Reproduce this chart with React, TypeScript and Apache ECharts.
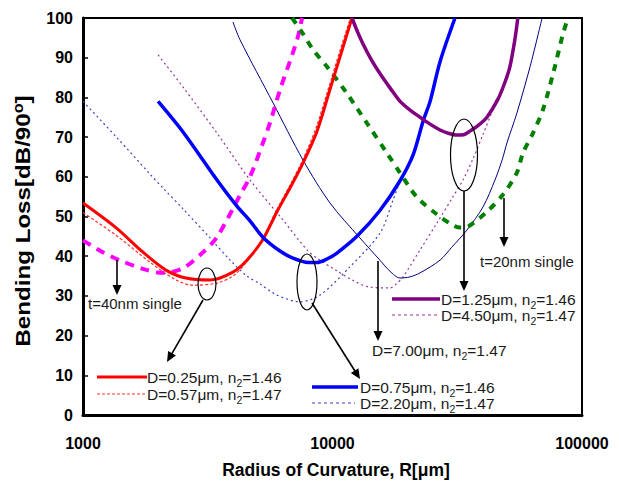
import React, { useEffect, useRef } from 'react';
import * as echarts from 'echarts';

// ---------- data ----------
const X_MIN = 1000;
const X_MAX = 100000;
const Y_MIN = 0;
const Y_MAX = 100;
const Y_STEP = 10;

// D=0.25um, n2=1.46
const redSolid: [number, number][] = [
  [1000, 53.4], [1355, 47.2], [1740, 41], [2150, 36.5], [2585, 34.5], [3230, 34], [3990, 36], [4540, 39],
  [5260, 44.2], [5990, 51.2], [6800, 57.5], [7620, 63.5], [8670, 71.5], [9770, 82], [11000, 92.5], [11970, 100],
];
// D=0.57um, n2=1.47
const redDotted: [number, number][] = [
  [1000, 51], [1355, 45.3], [1855, 38.5], [2360, 34], [2760, 32.7], [3420, 33.2], [3990, 35], [4450, 38],
  [5180, 43.8], [5900, 51], [6700, 57.5], [7500, 63.5], [8550, 72], [9600, 82], [10800, 92.5], [11800, 100],
];
// t=40nm single
const magentaDashed: [number, number][] = [
  [1000, 44], [1200, 41], [1400, 39], [1740, 36.8], [2090, 35.8], [2520, 37], [3030, 41], [3444, 44.8],
  [4260, 55.4], [4670, 60], [5260, 68.5], [5610, 73.5], [6160, 81.9], [6890, 90.7], [7250, 95], [7550, 100],
];
// D=0.75um, n2=1.46
const blueSolid: [number, number][] = [
  [2000, 79], [2517, 71.3], [3444, 59.2], [4140, 52.6], [4670, 48.9], [5260, 44.8], [6160, 41.3],
  [6940, 39.5], [8000, 38.4], [8670, 38.4], [9500, 39.3], [10420, 40.8], [12530, 45], [15490, 51.5],
  [18650, 59], [21040, 65.5], [23070, 74], [24610, 79], [26980, 89], [30970, 100],
];
// D=2.20um, n2=1.47
const blueDotted: [number, number][] = [
  [1000, 79], [1370, 69.8], [1855, 60.7], [2090, 57.2], [2517, 51.9], [3230, 44.6], [3890, 39], [4540, 35],
  [5120, 33], [5990, 30.2], [7410, 28.5], [8910, 30.2], [11740, 37.3], [15490, 45.8], [17460, 54], [18650, 59],
];
// D=7.00um, n2=1.47
const navySolid: [number, number][] = [
  [3990, 99], [4260, 94.5], [5780, 78.6], [7620, 64.2], [9770, 53.4], [12880, 44.6], [15490, 39],
  [17000, 36.2], [18650, 34.5], [20460, 34.8], [22440, 35.8], [26980, 39], [30000, 42.2], [34590, 46.6],
  [40100, 52.4], [44800, 59.2], [48000, 64.5], [50000, 68.5], [54800, 76], [61900, 87.7], [69200, 100],
];
// t=20nm single
const greenDashed: [number, number][] = [
  [6890, 100], [7620, 96], [8360, 92], [9510, 87.7], [11430, 81], [13740, 73.5], [16520, 66], [18650, 61],
  [21700, 55], [26250, 50.5], [30410, 47.8], [32500, 47.2], [35000, 47.5], [41590, 51.2], [48200, 55.5],
  [54800, 61], [58000, 66], [63600, 71], [69800, 77], [76600, 86], [83900, 96], [87900, 100],
];
// D=1.25um, n2=1.46
const purpleSolid: [number, number][] = [
  [11970, 100], [12600, 96.5], [13240, 93.5], [14300, 89.5], [15490, 86], [17000, 82.4], [18650, 79],
  [20460, 76.8], [22440, 75], [24700, 73.2], [26980, 71.8], [29000, 71], [31550, 70.5], [33500, 70.6],
  [35560, 71.5], [38500, 73], [41590, 75], [46000, 79.5], [48900, 83.5], [51400, 87.7], [53800, 94.5],
  [55300, 100],
];
// D=4.50um, n2=1.47
const purpleDotted: [number, number][] = [
  [2000, 90.7], [2517, 82.6], [3444, 71], [4670, 59.2], [6334, 49.1], [7903, 41.6], [8667, 39.5],
  [10420, 36.3], [12000, 34], [14120, 32.2], [16980, 32], [18000, 33], [19180, 34.8], [22440, 41.6],
  [26250, 48.4], [30410, 55], [33340, 59.2], [36560, 64.5], [40000, 70.5], [43950, 77], [45600, 80],
];

const labels = {
  d025: ['D=0.25μm, n', '2', '=1.46'],
  d057: ['D=0.57μm, n', '2', '=1.47'],
  d075: ['D=0.75μm, n', '2', '=1.46'],
  d220: ['D=2.20μm, n', '2', '=1.47'],
  d125: ['D=1.25μm, n', '2', '=1.46'],
  d450: ['D=4.50μm, n', '2', '=1.47'],
  d700: ['D=7.00μm, n', '2', '=1.47'],
};

// ---------- helpers ----------
const FONT = '"Liberation Sans", Arial, sans-serif';
const TXT = '#1a1a1a';

function subText(x: number, y: number, parts: string[]) {
  return {
    type: 'text',
    x,
    y,
    z: 100,
    style: {
      text: `{a|${parts[0]}}{s|${parts[1]}}{a|${parts[2]}}`,
      align: 'left',
      verticalAlign: 'middle',
      rich: {
        a: { fontFamily: FONT, fontSize: 15.5, lineHeight: 19, fill: TXT, color: TXT },
        s: { fontFamily: FONT, fontSize: 10.5, lineHeight: 10, padding: [12, 0, 0, 0], fill: TXT, color: TXT },
      },
    },
  };
}

function plainText(x: number, y: number, t: string) {
  return {
    type: 'text', x, y, z: 100,
    style: { text: t, fontFamily: FONT, fontSize: 15, fill: TXT, align: 'left', verticalAlign: 'middle' },
  };
}

function arrow(x1: number, y1: number, x2: number, y2: number) {
  const dx = x2 - x1, dy = y2 - y1;
  const len = Math.sqrt(dx * dx + dy * dy);
  const ux = dx / len, uy = dy / len;
  const nx = -uy, ny = ux;
  const hl = 10, hw = 4.5;
  const bx = x2 - ux * hl, by = y2 - uy * hl;
  return [
    {
      type: 'line', z: 100,
      shape: { x1, y1, x2: bx + ux * 2, y2: by + uy * 2 },
      style: { stroke: '#000', lineWidth: 1.6 },
    },
    {
      type: 'polygon', z: 100,
      shape: { points: [[x2, y2], [bx + nx * hw, by + ny * hw], [bx - nx * hw, by - ny * hw]] },
      style: { fill: '#000' },
    },
  ];
}

function ellipse(cx: number, cy: number, rx: number, ry: number) {
  return {
    type: 'ellipse', z: 100,
    shape: { cx, cy, rx, ry },
    style: { fill: 'none', stroke: '#000', lineWidth: 1.2 },
  };
}

function legendLine(x1: number, x2: number, y: number, color: string, width: number, dash?: number[]) {
  return {
    type: 'line', z: 100,
    shape: { x1, y1: y, x2, y2: y },
    style: { stroke: color, lineWidth: width, lineDash: dash },
  };
}

function lineSeries(name: string, data: [number, number][], color: string, width: number, type: any, z: number) {
  return {
    name,
    type: 'line',
    data,
    smooth: 0.3,
    symbol: 'none',
    z,
    lineStyle: { color, width, type, cap: 'butt' },
    emphasis: { disabled: true },
  };
}

export default function App() {
  const ref = useRef<HTMLDivElement>(null);
  useEffect(() => {
    document.body.style.margin = '0';
    const chart = echarts.init(ref.current!, null, { renderer: 'svg' });

    const graphics: any[] = [
      // axis titles
      {
        type: 'text', x: 23, y: 221, rotation: Math.PI / 2, scaleX: 1.15, z: 100,
        style: {
          text: '{a|Bending Loss[dB/90}{o|o}{a|]}',
          align: 'center', verticalAlign: 'middle',
          rich: {
            a: { fontFamily: FONT, fontWeight: 'bold', fontSize: 21, lineHeight: 24, fill: '#000' },
            o: { fontFamily: FONT, fontWeight: 'bold', fontSize: 14, lineHeight: 14, padding: [0, 0, 10, 0], fill: '#000' },
          },
        },
      },
      {
        type: 'text', x: 336, y: 470, z: 100,
        style: {
          text: 'Radius of Curvature, R[μm]', fontFamily: FONT, fontWeight: 'bold', fontSize: 17.5,
          fill: '#000', align: 'center', verticalAlign: 'middle',
        },
      },
      // ellipses
      ellipse(207, 284, 9, 16),
      ellipse(307, 282, 10, 28),
      ellipse(464, 155, 13.5, 36),
      // arrows
      ...arrow(203, 300, 167, 362),
      ...arrow(312, 303, 360, 379),
      ...arrow(464, 191, 464, 291),
      ...arrow(504, 198, 504, 247),
      ...arrow(117, 260, 117, 295),
      ...arrow(378, 261, 378, 341),
      // annotation texts
      plainText(88, 303, 't=40nm single'),
      plainText(480, 261, 't=20nm single'),
      // legend samples
      legendLine(97, 147, 377, '#ff0000', 3),
      legendLine(97, 145, 394, '#ff3030', 1.2, [3, 2]),
      subText(147, 377, labels.d025),
      subText(147, 394, labels.d057),
      legendLine(312, 358, 387, '#0000ff', 3.5),
      legendLine(312, 355, 403, '#4040c0', 1.2, [3, 3]),
      subText(360, 387, labels.d075),
      subText(360, 403, labels.d220),
      legendLine(392, 440, 299, '#800080', 3.5),
      legendLine(392, 437, 315, '#993399', 1.2, [3, 3]),
      subText(441, 299, labels.d125),
      subText(441, 315, labels.d450),
      subText(372, 350, labels.d700),
    ];

    chart.setOption({
      animation: false,
      backgroundColor: '#ffffff',
      grid: {
        left: 83, right: 37, top: 18, bottom: 74,
        show: true, borderColor: '#000', borderWidth: 2, backgroundColor: 'transparent',
      },
      xAxis: {
        type: 'log', logBase: 10, min: X_MIN, max: X_MAX,
        axisLine: { show: true, onZero: false, lineStyle: { color: '#000', width: 3 } },
        axisTick: { show: false },
        splitLine: { show: false },
        minorTick: { show: false },
        axisLabel: {
          margin: 20, color: '#000', fontFamily: FONT, fontWeight: 'bold', fontSize: 16,
          showMinLabel: true, showMaxLabel: true,
          formatter: (v: number) => String(Math.round(v)),
        },
      },
      yAxis: {
        type: 'value', min: Y_MIN, max: Y_MAX, interval: Y_STEP,
        axisLine: { show: true, lineStyle: { color: '#000', width: 3 } },
        axisTick: { show: true, inside: true, length: 5, lineStyle: { color: '#000', width: 1.5 } },
        splitLine: { show: false },
        axisLabel: { margin: 10, color: '#000', fontFamily: FONT, fontWeight: 'bold', fontSize: 16 },
      },
      series: [
        lineSeries('D=0.57μm, n2=1.47', redDotted, '#ff3030', 1.2, [3, 2], 2),
        lineSeries('D=2.20μm, n2=1.47', blueDotted, '#4040c0', 1.2, [2, 3], 2),
        lineSeries('D=4.50μm, n2=1.47', purpleDotted, '#993399', 1.2, [2, 3], 2),
        lineSeries('D=7.00μm, n2=1.47', navySolid, '#000080', 1, 'solid', 3),
        lineSeries('t=40nm single', magentaDashed, '#ff00ff', 4, [9, 7], 4),
        lineSeries('t=20nm single', greenDashed, '#008000', 4, [7, 7], 4),
        lineSeries('D=0.25μm, n2=1.46', redSolid, '#ff0000', 3, 'solid', 5),
        lineSeries('D=0.75μm, n2=1.46', blueSolid, '#0000ff', 3.5, 'solid', 5),
        lineSeries('D=1.25μm, n2=1.46', purpleSolid, '#800080', 3.5, 'solid', 5),
      ],
      graphic: graphics,
    });
    return () => chart.dispose();
  }, []);
  return <div ref={ref} style={{ width: 619, height: 489 }} />;
}
